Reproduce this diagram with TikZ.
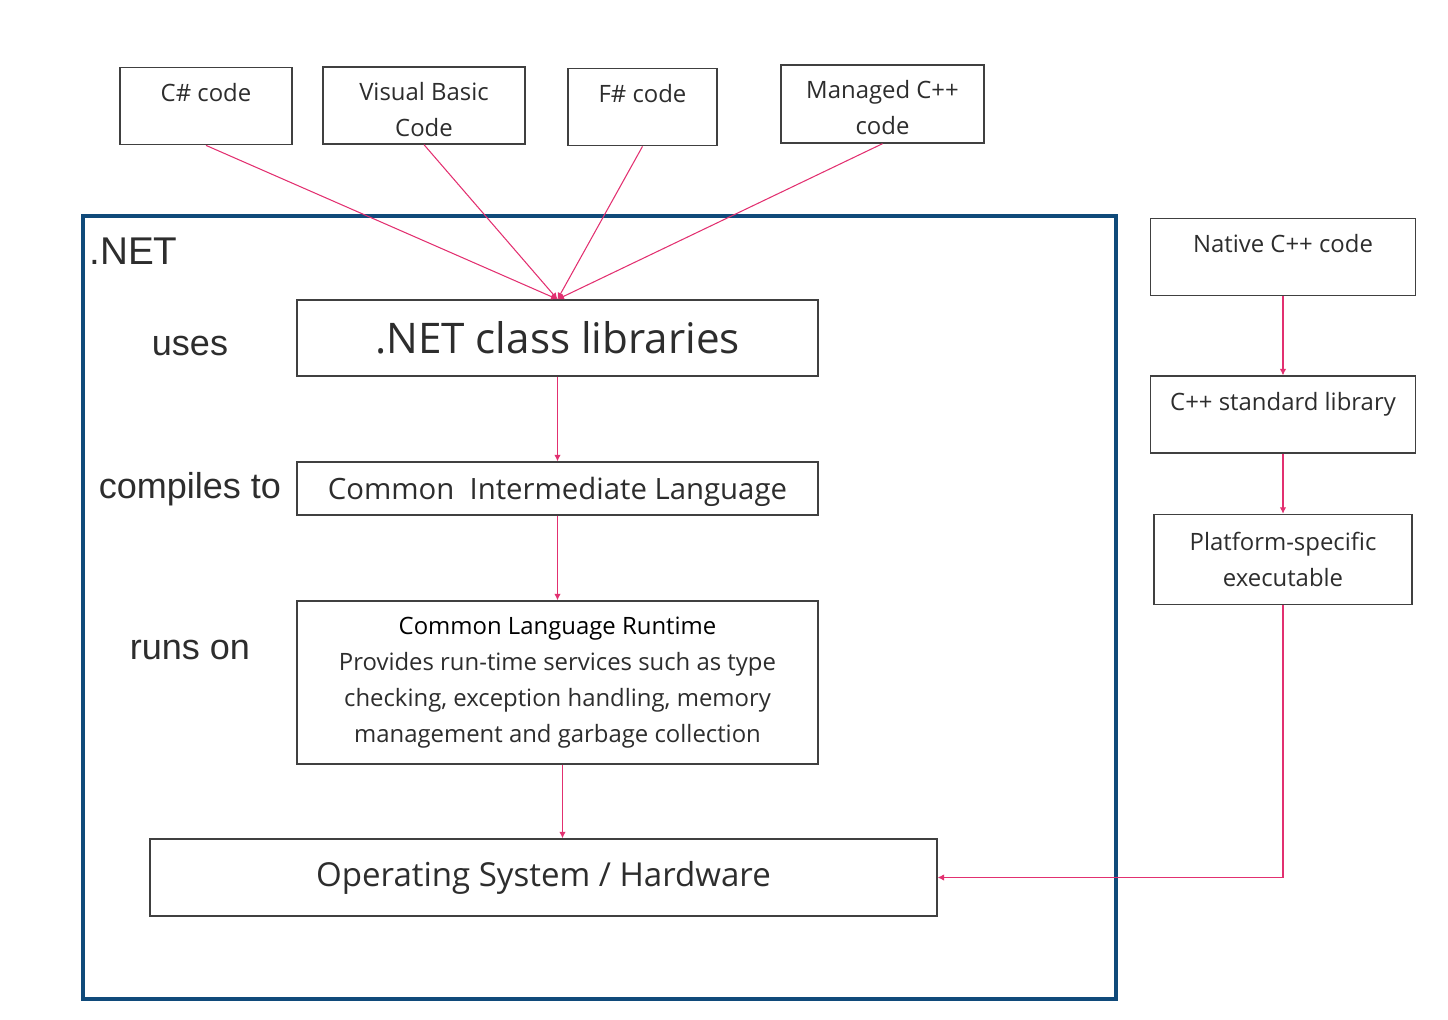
\documentclass[tikz,border=0pt]{standalone}
\usepackage{fontspec}
\setmainfont{Open Sans}
\newfontfamily\labelfont{Liberation Sans}
\usepackage{tikz}
\usetikzlibrary{calc,positioning,arrows.meta}
\definecolor{linkpink}{RGB}{226,48,112}
\definecolor{netblue}{RGB}{16,74,122}
\definecolor{boxgray}{RGB}{64,64,64}
\definecolor{textgray}{RGB}{45,45,45}
\tikzset{>={Latex[width=1.3mm,length=1.3mm]}}
\tikzstyle{block} = [draw=boxgray, line width=0.8pt, fill=white, rectangle, align=center, text=textgray, inner sep=0pt, font=\fontsize{13.6}{20.4}\selectfont]
\tikzstyle{topblock} = [block, anchor=north, text height=0.68cm, text depth=0.86cm]
\tikzstyle{side} = [text=textgray, font=\labelfont\fontsize{20.5}{24}\selectfont]
\tikzstyle{link} = [->, draw=linkpink, line width=0.6pt]

\begin{document}
\begin{tikzpicture}[x=0.02cm, y=-0.02cm]

    \useasboundingbox (0,0) rectangle (1448,1020);

    \node[topblock, minimum width=3.44cm] (csharp) at (206,67) {C\# code};
    \node[block, minimum width=4.04cm, minimum height=1.54cm] (vbasic) at (424,105.5) {\rule{0pt}{14.8pt}Visual Basic\\Code};
    \node[topblock, minimum width=2.98cm] (fsharp) at (642.5,68) {F\# code};
    \node[block, minimum width=4.06cm, minimum height=1.56cm] (managed) at (882.5,104) {\rule{0pt}{14.8pt}Managed C++\\code};

    \draw[draw=netblue, line width=2.4pt] (83,216) rectangle (1116,999);
    \node[anchor=west, inner sep=0pt, text=textgray, font=\labelfont\fontsize{22}{26}\selectfont] (dotnet) at (89,251) {.NET};

    \node[block, minimum width=10.42cm, minimum height=1.52cm, font=\fontsize{24}{28}\selectfont] (classlib) at (557.5,338) {.NET class libraries};
    \node[block, minimum width=10.42cm, minimum height=1.06cm, font=\fontsize{16.7}{20}\selectfont] (cil) at (557.5,488.5) {\rule{0pt}{16.7pt}Common\ \ Intermediate Language};
    \node[block, minimum width=10.42cm, minimum height=3.26cm] (clr) at (557.5,682.5) {{\color{black}Common Language Runtime}\\Provides run-time services such as type\\checking, exception handling, memory\\management and garbage collection};
    \node[block, minimum width=15.74cm, minimum height=1.54cm, font=\fontsize{18.8}{22}\selectfont] (os) at (543.5,877.5) {Operating System / Hardware};

    \node[side] (uses) at (190,346) {uses};
    \node[side] (compiles) at (190,489) {compiles to};
    \node[side] (runs) at (190,650) {runs on};

    \node[topblock, minimum width=5.3cm] (native) at (1283,218) {Native C++ code};
    \node[topblock, minimum width=5.3cm, below=1.58cm of native] (stdlib) {C++ standard library};
    \node[block, minimum width=5.16cm, minimum height=1.8cm, below=1.2cm of stdlib] (platform) {Platform-specific\\executable};

    \draw[link] (csharp.south) -- (classlib.north);
    \draw[link] (vbasic.south) -- (classlib.north);
    \draw[link] (fsharp.south) -- (classlib.north);
    \draw[link] (managed.south) -- (classlib.north);

    \draw[link] (classlib) -- (cil);
    \draw[link] (cil) -- (clr);
    \draw[link] ([xshift=0.1cm]clr.south) -- ([xshift=0.1cm]clr.south |- os.north);

    \draw[link] (native) -- (stdlib);
    \draw[link] (stdlib) -- (platform);
    \draw[link] (platform.south) |- (os.east);

\end{tikzpicture}
\end{document}
